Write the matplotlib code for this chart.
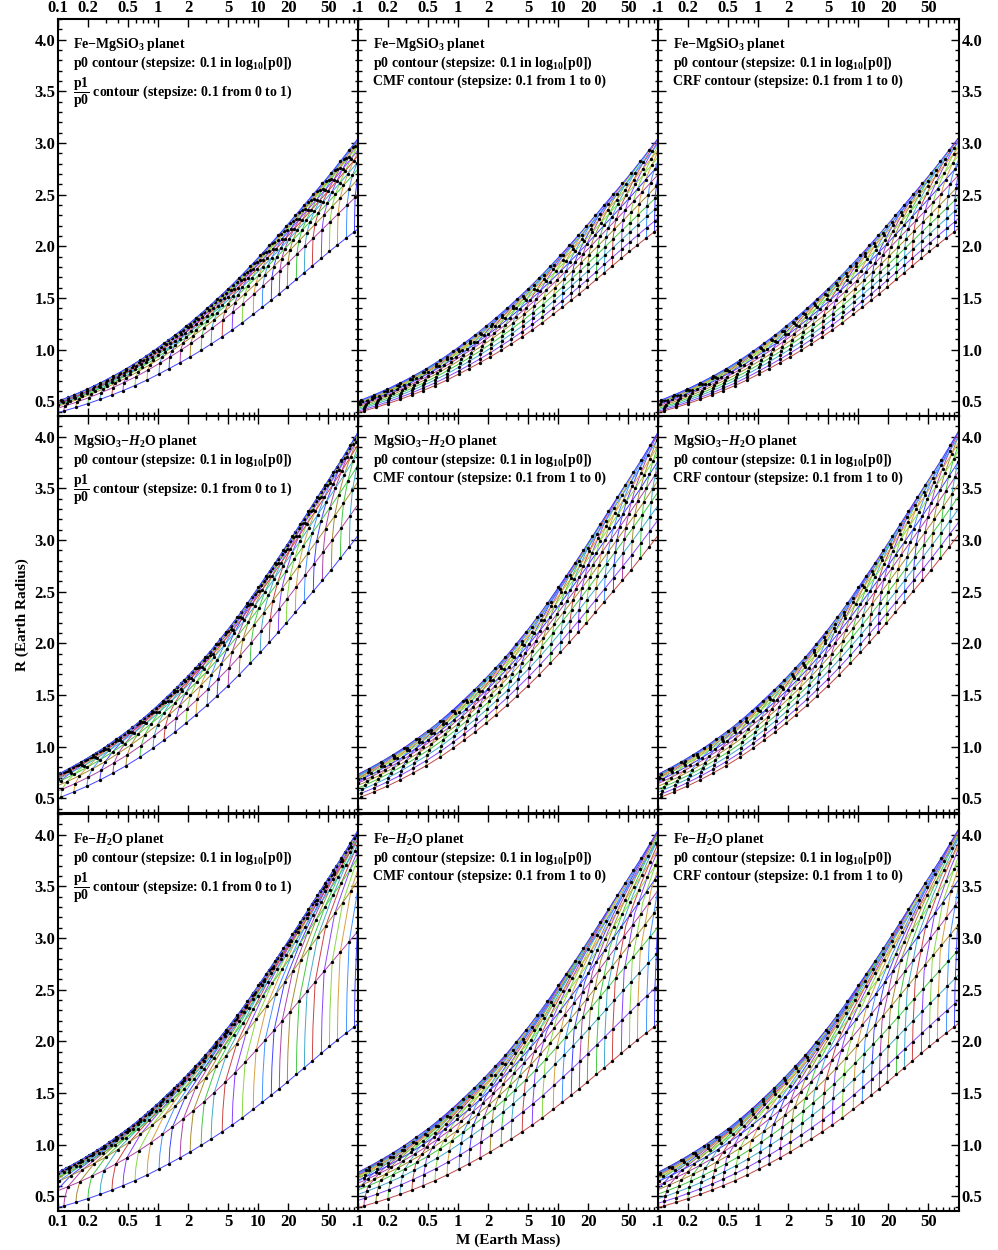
import numpy as np
import matplotlib.pyplot as plt
from matplotlib.ticker import FixedLocator, FixedFormatter

plt.rcParams['font.family'] = ['Liberation Serif', 'DejaVu Serif']
plt.rcParams['font.weight'] = 'bold'
plt.rcParams['mathtext.fontset'] = 'custom'
plt.rcParams['mathtext.rm'] = 'Liberation Serif:bold'
plt.rcParams['mathtext.it'] = 'Liberation Serif:bold:italic'
plt.rcParams['mathtext.bf'] = 'Liberation Serif:bold'

# log10 of the mass of the pure planets, one entry per p0 step
# (log10 p0 from 9.8 to 13.9, step 0.1)
fe_logm = [-2.25, -2.13, -2.01, -1.89, -1.77, -1.65, -1.54, -1.42, -1.30, -1.18,
           -1.06, -0.94, -0.82, -0.70, -0.58, -0.46, -0.35, -0.23, -0.11, 0.01,
           0.11, 0.22, 0.32, 0.43, 0.53, 0.64, 0.74, 0.84, 0.95, 1.04,
           1.13, 1.21, 1.29, 1.38, 1.46, 1.54, 1.63, 1.71, 1.79, 1.88,
           1.96, 2.04]
mg_logm = [-1.90, -1.77, -1.63, -1.50, -1.37, -1.24, -1.11, -0.97, -0.84, -0.71,
           -0.58, -0.45, -0.32, -0.18, -0.05, 0.06, 0.17, 0.28, 0.38, 0.49,
           0.59, 0.70, 0.81, 0.92, 1.02, 1.11, 1.20, 1.28, 1.37, 1.46,
           1.55, 1.64, 1.73, 1.82, 1.91, 2.00, 2.09, 2.18, 2.27, 2.36,
           2.45, 2.54]
w_logm = [-1.01, -0.89, -0.77, -0.65, -0.54, -0.42, -0.30, -0.18, -0.06, 0.05,
          0.16, 0.26, 0.37, 0.47, 0.58, 0.68, 0.79, 0.89, 1.00, 1.08,
          1.17, 1.25, 1.34, 1.42, 1.50, 1.59, 1.67, 1.75, 1.83, 1.92,
          2.00, 2.08, 2.17, 2.25, 2.33, 2.42, 2.50, 2.58, 2.67, 2.75,
          2.83, 2.92]

# mass-radius relation of the pure planets (Earth units)
env_mass = [0.003, 0.01, 0.03, 0.1, 0.15, 0.2, 0.3, 0.5, 0.7, 1, 1.5, 2, 3, 5, 7,
            10, 15, 20, 30, 50, 70, 100, 300, 1000]
fe_rad = [0.136, 0.196, 0.272, 0.39, 0.439, 0.478, 0.537, 0.622, 0.684, 0.760, 0.850, 0.918,
          1.021, 1.162, 1.263, 1.380, 1.514, 1.614, 1.759, 1.941, 2.056, 2.170, 2.616, 3.14]
mg_rad = [0.163, 0.239, 0.340, 0.50, 0.568, 0.621, 0.704, 0.825, 0.914, 1.020, 1.147, 1.245,
          1.390, 1.590, 1.731, 1.890, 2.080, 2.220, 2.423, 2.676, 2.855, 3.050, 3.717, 4.51]
w_rad = [0.259, 0.370, 0.512, 0.73, 0.821, 0.891, 0.999, 1.153, 1.266, 1.400, 1.562, 1.686,
         1.871, 2.135, 2.322, 2.540, 2.790, 2.975, 3.242, 3.579, 3.80, 4.050, 4.88, 5.85]

# shape of a p0 curve, sampled at p1/p0 = 0, .02, .05, .1, .2, ..., .9, 1
# u: fraction of the way in log M from the lower to the upper pure planet
# w: fraction of the way in R between the two envelopes at that mass
p1p0_levels = [0, 0.02, 0.05, 0.1, 0.2, 0.3, 0.4, 0.5, 0.6, 0.7, 0.8, 0.9, 1]
shape_u = [[0, 0.0005, 0.003, 0.012, 0.055, 0.125, 0.22, 0.336, 0.46, 0.597, 0.73, 0.87, 1],
           [0, 0.0007, 0.004, 0.016, 0.07, 0.169, 0.29, 0.434, 0.56, 0.687, 0.80, 0.902, 1],
           [0, 0.001, 0.006, 0.031, 0.152, 0.327, 0.48, 0.614, 0.72, 0.808, 0.88, 0.943, 1]]
shape_w = [[0, 0.07, 0.18, 0.38, 0.55, 0.66, 0.74, 0.81, 0.87, 0.92, 0.955, 0.982, 1],
           [0, 0.06, 0.15, 0.30, 0.52, 0.68, 0.80, 0.88, 0.935, 0.968, 0.986, 0.996, 1],
           [0, 0.08, 0.21, 0.48, 0.74, 0.86, 0.92, 0.955, 0.975, 0.987, 0.994, 0.998, 1]]

# R fraction between the envelopes of the CMF (1 -> 0) and CRF (1 -> 0) contours
cmf_w = [[0, 0.12, 0.25, 0.37, 0.49, 0.60, 0.70, 0.79, 0.87, 0.94, 1],
         [0, 0.15, 0.29, 0.42, 0.53, 0.63, 0.72, 0.80, 0.87, 0.94, 1],
         [0, 0.20, 0.37, 0.50, 0.60, 0.69, 0.77, 0.84, 0.90, 0.95, 1]]
crf_w = [[0, 0.11, 0.23, 0.35, 0.47, 0.59, 0.70, 0.80, 0.89, 0.95, 1],
         [0, 0.12, 0.25, 0.37, 0.49, 0.61, 0.71, 0.81, 0.89, 0.95, 1],
         [0, 0.12, 0.25, 0.38, 0.51, 0.63, 0.74, 0.83, 0.91, 0.96, 1]]

rows = [('fe', 'mg'), ('mg', 'w'), ('fe', 'w')]
logm_of = {'fe': fe_logm, 'mg': mg_logm, 'w': w_logm}
rad_of = {'fe': fe_rad, 'mg': mg_rad, 'w': w_rad}

titles = ['Fe$-$MgSiO$_3$ planet', 'MgSiO$_3$$-$$H_2$O planet', 'Fe$-$$H_2$O planet']
line2 = 'p0 contour (stepsize: 0.1 in log$_{10}$[p0])'
line3 = [r'$\dfrac{\mathrm{p1}}{\mathrm{p0}}$ contour (stepsize: 0.1 from 0 to 1)',
         'CMF contour (stepsize: 0.1 from 1 to 0)',
         'CRF contour (stepsize: 0.1 from 1 to 0)']

palette = ['#4444ff', '#b044a8', '#a88c34', '#44c844', '#44aacc', '#cc4444',
           '#8844ff', '#88d844', '#d8a044', '#4494ff']
contour_colors = [['#4444ff', '#b044a8', '#a88c34', '#44c844', '#44aacc', '#cc4444',
                   '#8844ff', '#88d844', '#d8a044', '#4494ff', '#4444ff'],
                  ['#c04848', '#8848ff', '#44aacc', '#44c844', '#a88c34', '#b044a8',
                   '#4444ff', '#88d844', '#d8a044', '#4494ff', '#4444ff'],
                  ['#c04848', '#8848ff', '#44aacc', '#44c844', '#a88c34', '#b044a8',
                   '#4444ff', '#88d844', '#d8a044', '#4494ff', '#4444ff']]

xmaj = [0.1, 0.2, 0.5, 1, 2, 5, 10, 20, 50]
xmin = [0.3, 0.4, 0.6, 0.7, 0.8, 0.9, 3, 4, 6, 7, 8, 9, 30, 40, 60, 70, 80, 90]
xlab_first = ['0.1', '0.2', '0.5', '1', '2', '5', '10', '20', '50']
xlab_other = ['.1', '0.2', '0.5', '1', '2', '5', '10', '20', '50']
ymaj = [0.5, 1.0, 1.5, 2.0, 2.5, 3.0, 3.5, 4.0]
ymin = [round(0.4 + 0.1 * i, 1) for i in range(39)]

fig = plt.figure(figsize=(9.98, 12.5), dpi=100)
lefts = [58, 358, 658]
tops = [19, 416, 814]
log_env = np.log10(env_mass)


def place(lm_lo, lm_hi, lo, hi, u, w):
    """Points (M, R) at fractions u, w along every p0 curve."""
    uu = np.asarray(u, float)[:, None]
    ww = np.asarray(w, float)[:, None]
    LM = lm_lo[None, :] + uu * (lm_hi - lm_lo)[None, :]
    r_lo = np.interp(LM, log_env, rad_of[lo])
    r_hi = np.interp(LM, log_env, rad_of[hi])
    return 10 ** LM, r_lo + ww * (r_hi - r_lo)


for r in range(3):
    lo, hi = rows[r]
    lm_lo = np.array(logm_of[lo])
    lm_hi = np.array(logm_of[hi])
    su, sw = shape_u[r], shape_w[r]
    # p0 curves (same in the three panels of a row)
    Mc, Rc = place(lm_lo, lm_hi, lo, hi, su, sw)
    # contour levels for each panel, placed on the p0 curves
    dot_w = [[sw[0]] + sw[3:], cmf_w[r], crf_w[r]]
    for c in range(3):
        ax = fig.add_axes([lefts[c] / 998, 1 - (tops[r] + 397) / 1250, 300.5 / 998, 397 / 1250])
        for k in range(Mc.shape[1]):
            ax.plot(Mc[:, k], Rc[:, k], color=palette[k % len(palette)], lw=0.7)
        dw = dot_w[c]
        du = np.interp(dw, sw, su)
        Md, Rd = place(lm_lo, lm_hi, lo, hi, du, dw)
        for f in range(Md.shape[0]):
            ax.plot(Md[f], Rd[f], color=contour_colors[c][f], lw=0.7)
            ax.plot(Md[f], Rd[f], 'o', color='k', ms=2.4, mew=0)
        ax.set_xscale('log')
        ax.set_xlim(0.1, 100)
        ax.set_ylim(0.357, 4.2)
        ax.xaxis.set_major_locator(FixedLocator(xmaj))
        ax.xaxis.set_minor_locator(FixedLocator(xmin))
        ax.xaxis.set_major_formatter(FixedFormatter(xlab_first if c == 0 else xlab_other))
        ax.yaxis.set_major_locator(FixedLocator(ymaj))
        ax.yaxis.set_minor_locator(FixedLocator(ymin))
        ax.yaxis.set_major_formatter(FixedFormatter(['%.1f' % v for v in ymaj]))
        ax.tick_params(which='both', direction='in', top=True, right=True,
                       labelbottom=(r == 2), labeltop=(r == 0),
                       labelleft=(c == 0), labelright=(c == 2),
                       labelsize=12, width=1.0, pad=2)
        ax.tick_params(which='major', length=6)
        ax.tick_params(which='minor', length=3)
        for sp in ax.spines.values():
            sp.set_linewidth(1.5)
        ax.text(0.05, 0.935, titles[r], transform=ax.transAxes, fontsize=10, va='center')
        ax.text(0.05, 0.889, line2, transform=ax.transAxes, fontsize=10, va='center')
        ax.text(0.05, 0.814 if c == 0 else 0.844, line3[c], transform=ax.transAxes,
                fontsize=10, va='center')

fig.text(0.022, 0.508, 'R (Earth Radius)', rotation=90, fontsize=11, ha='center', va='center')
fig.text(0.509, 0.0075, 'M (Earth Mass)', fontsize=11, ha='center', va='center')
fig.savefig('out.png', dpi=100)
